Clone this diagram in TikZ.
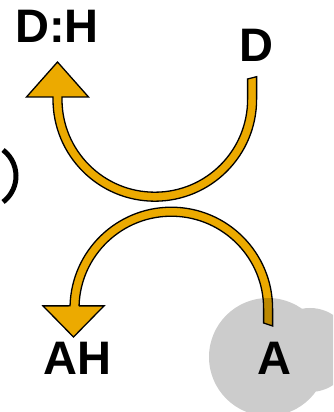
\documentclass[tikz,border=0pt]{standalone}
\usepackage{fontspec}
\setmainfont{Liberation Sans}
\definecolor{arrowcol}{RGB}{236,170,0}
\tikzset{
  band/.style={fill=arrowcol, draw=black, line width=1.3pt, line join=miter},
  lab/.style={inner sep=0pt, font=\fontsize{47}{47}\selectfont\bfseries},
}
\begin{document}
\begin{tikzpicture}[x=1pt,y=1pt]
\useasboundingbox (0,0) rectangle (333,412);
\clip (0,0) rectangle (333,412);
% upper arrow (D -> D:H)
\coordinate (cu) at (154.8,312.6);
\draw[band] (256.6,335.3) -- (256.6,312.6)
  arc[start angle=0,end angle=-180,radius=101.8]
  -- (53,315) -- (26.5,315) -- (57.5,350) -- (88.5,315) -- (62,315) -- (62,312.6)
  arc[start angle=180,end angle=360,radius=92.8]
  -- (247.6,333) -- cycle;
% lower arrow (A -> AH)
\draw[band] (272.6,86) -- (272.6,103.5)
  arc[start angle=0,end angle=178.5,radius=101.3]
  -- (43,106.1) -- (73.5,75) -- (104,106.1) -- (79.03,106.1) -- ([shift={(178.5:92.3)}]171.3,103.5)
  arc[start angle=178.5,end angle=0,radius=92.3]
  -- (263.6,89) -- cycle;
% grey blob
\fill[black, fill opacity=0.2] (268,55) circle[radius=59] (310,62) circle[radius=42];
% partial parenthesis
\draw[line width=5pt] (-16.5,236) ++(53:32.5) arc[start angle=53,end angle=-53,radius=32.5];
% labels
\node[lab] (dh) at (57,386) {D:H};
\node[lab] (d) at (256.5,366.5) {D};
\node[lab] (ah) at (77.5,54) {AH};
\node[lab] (a) at (274.5,54) {A};
\end{tikzpicture}
\end{document}
